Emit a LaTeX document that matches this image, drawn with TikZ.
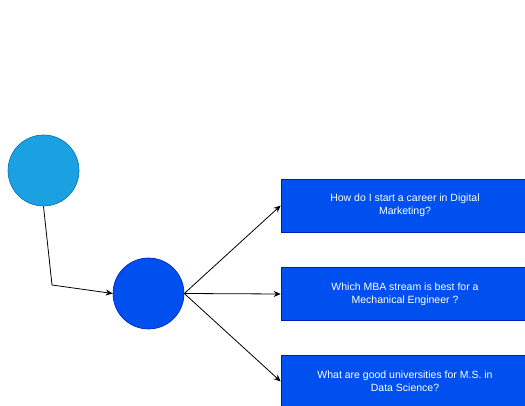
\documentclass[tikz,border=0pt]{standalone}
\usepackage{fontspec}
\setmainfont{Liberation Sans}
\usetikzlibrary{arrows.meta}
\definecolor{lblue}{HTML}{1BA1E2}
\definecolor{lbluestroke}{HTML}{006EAF}
\definecolor{dblue}{HTML}{0050EF}
\definecolor{dbluestroke}{HTML}{001DBC}
\tikzset{
  circA/.style={circle, draw=lbluestroke, fill=lblue, minimum size=71pt, inner sep=0pt, line width=0.6pt},
  circB/.style={circle, draw=dbluestroke, fill=dblue, minimum size=71pt, inner sep=0pt, line width=0.6pt},
  qbox/.style={rectangle, draw=dbluestroke, fill=dblue, minimum width=248pt, minimum height=53pt, inner sep=0pt, line width=0.6pt, text=white, align=center, font=\fontsize{10.5pt}{13pt}\selectfont},
  arr/.style={draw=black, line width=0.8pt, -{Stealth[length=7pt,width=6pt]}}
}
\begin{document}
\begin{tikzpicture}[x=1pt,y=-1pt]
\useasboundingbox (0,0) rectangle (525,406);
\clip (0,0) rectangle (525,406);
\node[circA] (c1) at (43.5,170.5) {};
\node[circB] (c2) at (148.5,293.5) {};
\node[qbox] (b1) at (405,205.5) {How do I start a career in Digital\\Marketing?};
\node[qbox] (b2) at (405,294) {Which MBA stream is best for a\\Mechanical Engineer ?};
\node[qbox] (b3) at (405,381.5) {What are good universities for M.S. in\\Data Science?};
\coordinate (bend) at (52,285);
\draw[arr] (c1.south) -- (bend) -- (c2.west);
\draw[arr] (c2.east) -- (b1.west);
\draw[arr] (c2.east) -- (b2.west);
\draw[arr] (c2.east) -- (b3.west);
\end{tikzpicture}
\end{document}
